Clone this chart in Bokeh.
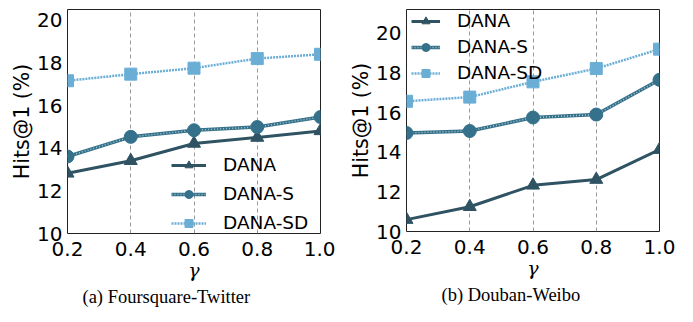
from bokeh.plotting import figure
from bokeh.layouts import row
from bokeh.models import FixedTicker, Legend, LegendItem, Title, Range1d, PrintfTickFormatter
from bokeh.embed import file_html
from bokeh.resources import INLINE

gamma = [0.2, 0.4, 0.6, 0.8, 1.0]
x_ticks = [0.2, 0.4, 0.6, 0.8, 1.0]
y_ticks = [10, 12, 14, 16, 18, 20]

fs_dana = [12.82, 13.41, 14.22, 14.50, 14.81]
fs_dana_s = [13.61, 14.53, 14.84, 14.99, 15.46]
fs_dana_sd = [17.16, 17.47, 17.75, 18.20, 18.40]

dw_dana = [10.60, 11.25, 12.33, 12.62, 14.13]
dw_dana_s = [14.97, 15.07, 15.75, 15.90, 17.65]
dw_dana_sd = [16.57, 16.78, 17.55, 18.22, 19.20]

C_DANA = "#2f5362"
C_S = "#35718a"
C_S_LIGHT = "#a9c6d0"
C_SD = "#6aaed6"


def panel(fw, fh, ymax, data, caption, bl, br, bt, bb, leg_loc, glyph_w, row_sp, cap_off):
    p = figure(frame_width=fw, frame_height=fh, output_backend="svg", toolbar_location=None,
               x_range=Range1d(0.2, 1.0), y_range=Range1d(10, ymax),
               min_border_left=bl, min_border_right=br, min_border_top=bt, min_border_bottom=bb)
    p.background_fill_color = "white"
    p.border_fill_color = "white"
    p.outline_line_color = "#222222"
    p.outline_line_width = 1
    p.ygrid.visible = False
    p.xgrid.ticker = FixedTicker(ticks=x_ticks)
    p.xgrid.grid_line_color = "#999999"
    p.xgrid.grid_line_dash = "4 3"
    p.xgrid.grid_line_width = 1
    p.xaxis.ticker = FixedTicker(ticks=x_ticks)
    p.yaxis.ticker = FixedTicker(ticks=y_ticks)
    p.xaxis.formatter = PrintfTickFormatter(format="%.1f")
    for ax in (p.xaxis, p.yaxis):
        ax.axis_line_color = None
        ax.major_tick_line_color = None
        ax.minor_tick_line_color = None
        ax.major_tick_out = 0
        ax.major_tick_in = 0
        ax.minor_tick_out = 0
        ax.minor_tick_in = 0
        ax.major_label_text_font = "DejaVu Sans"
        ax.major_label_text_font_size = "20px"
        ax.major_label_text_color = "black"
        ax.axis_label_text_color = "black"
    p.xaxis.major_label_standoff = 8
    p.yaxis.major_label_standoff = 5
    p.xaxis.axis_label = "γ"
    p.xaxis.axis_label_text_font = "DejaVu Serif"
    p.xaxis.axis_label_text_font_style = "italic"
    p.xaxis.axis_label_text_font_size = "19px"
    p.xaxis.axis_label_standoff = 0
    p.yaxis.axis_label = "Hits@1 (%)"
    p.yaxis.axis_label_text_font = "DejaVu Sans"
    p.yaxis.axis_label_text_font_style = "normal"
    p.yaxis.axis_label_text_font_size = "20.5px"
    p.yaxis.axis_label_standoff = 0

    d, s, sd = data
    l1 = p.line(gamma, d, line_color=C_DANA, line_width=3)
    m1 = p.scatter(gamma, d, marker="triangle", size=13, fill_color=C_DANA, line_color=C_DANA)
    l2 = p.line(gamma, s, line_color=C_S, line_width=3.5)
    l2b = p.line(gamma, s, line_color=C_S_LIGHT, line_width=1.5, line_dash="1 2")
    m2 = p.scatter(gamma, s, marker="circle", size=13, fill_color=C_S, line_color=C_S)
    l3 = p.line(gamma, sd, line_color=C_SD, line_width=2.5, line_dash="2 1")
    m3 = p.scatter(gamma, sd, marker="square", size=12, fill_color=C_SD, line_color=C_SD)

    leg = Legend(items=[LegendItem(label="DANA", renderers=[l1, m1]),
                        LegendItem(label="DANA-S", renderers=[l2, l2b, m2]),
                        LegendItem(label="DANA-SD", renderers=[l3, m3])],
                 location=leg_loc)
    leg.border_line_color = None
    leg.background_fill_alpha = 0
    leg.label_text_font = "DejaVu Sans"
    leg.label_text_font_size = "18.5px"
    leg.label_text_color = "black"
    leg.glyph_width = glyph_w
    leg.glyph_height = 20
    leg.label_height = 20
    leg.spacing = row_sp
    leg.padding = 4
    leg.margin = 0
    leg.label_standoff = 17
    p.add_layout(leg, "center")

    t = Title(text=caption, align="left", text_font="Liberation Serif",
              text_font_size="18.5px", text_font_style="normal", text_color="black",
              standoff=2, offset=cap_off)
    p.add_layout(t, "below")
    return p


p1 = panel(253, 224, 20.5, (fs_dana, fs_dana_s, fs_dana_sd), "(a)  Foursquare-Twitter",
           67, 15, 5, 80, (104, 0), 35, 8, 15)
p2 = panel(253, 222, 21.2, (dw_dana, dw_dana_s, dw_dana_sd), "(b)  Douban-Weibo",
           71, 24, 9, 81, (5, 148), 29, 5, 35)

layout = row(p1, p2, spacing=0)
open("out.html", "w").write(file_html(layout, INLINE))
